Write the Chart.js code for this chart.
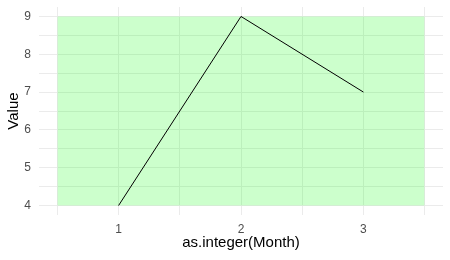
<!DOCTYPE html>
<html>
<head>
<meta charset="utf-8">
<script src="https://cdn.jsdelivr.net/npm/chart.js@4"></script>
<style>
  html, body { margin: 0; padding: 0; background: #fff; }
  #wrap { width: 450px; height: 260px; }
</style>
</head>
<body>
<div id="wrap"><canvas id="chart1"></canvas></div>
<script>
// data
const months = [1, 2, 3];
const values = [4, 9, 7];
// shaded band behind the line
const bandX = [0.5, 3.5];
const bandTop = 9;
const bandBottom = 4;

const xTicks = [0.5, 1, 1.5, 2, 2.5, 3, 3.5];
const yTicks = [4, 4.5, 5, 5.5, 6, 6.5, 7, 7.5, 8, 8.5, 9];

const gridColor = '#ebebeb';
const labelFont = { family: 'Liberation Sans, Arial, sans-serif', size: 12 };
const titleFont = { family: 'Liberation Sans, Arial, sans-serif', size: 15 };

const ctx1 = document.getElementById('chart1').getContext('2d');

var chart1 = new Chart(ctx1, {
    type: 'line',
    data: {
        datasets: [{
                label: 'Value',
                data: months.map((m, i) => ({ x: m, y: values[i] })),
                borderColor: '#000',
                borderWidth: 1,
                pointRadius: 0,
                tension: 0,
                fill: false,
            },
            {
                label: 'band',
                data: bandX.map(x => ({ x: x, y: bandTop })),
                borderWidth: 0,
                pointRadius: 0,
                backgroundColor: 'rgba(0,255,0,0.2)',
                fill: { value: bandBottom },
            },
        ],
    },
    options: {
        responsive: true,
        maintainAspectRatio: false,
        animation: false,
        layout: {
            padding: { top: 7, right: 7, left: 0, bottom: 0 }
        },
        plugins: {
            legend: { display: false },
            tooltip: { enabled: false },
        },
        scales: {
            x: {
                type: 'linear',
                min: 0.35,
                max: 3.65,
                afterBuildTicks(scale) {
                    scale.ticks = xTicks.map(v => ({ value: v }));
                },
                afterFit(scale) {
                    scale.height = 45;
                },
                border: { display: false },
                grid: { color: gridColor, drawTicks: false, lineWidth: 1 },
                ticks: {
                    color: '#4d4d4d',
                    font: labelFont,
                    padding: 7,
                    autoSkip: false,
                    maxRotation: 0,
                    callback: v => Number.isInteger(v) ? String(v) : '',
                },
                title: {
                    display: true,
                    text: 'as.integer(Month)',
                    color: '#000',
                    font: titleFont,
                    padding: { top: 0, bottom: 8 },
                },
            },
            y: {
                min: 3.75,
                max: 9.25,
                afterBuildTicks(scale) {
                    scale.ticks = yTicks.map(v => ({ value: v }));
                },
                afterFit(scale) {
                    scale.width = 39;
                    scale.paddingTop = 0;
                    scale.paddingBottom = 0;
                },
                border: { display: false },
                grid: { color: gridColor, drawTicks: false, lineWidth: 1 },
                ticks: {
                    color: '#4d4d4d',
                    font: labelFont,
                    padding: 8,
                    autoSkip: false,
                    callback: v => Number.isInteger(v) ? String(v) : '',
                },
                title: {
                    display: true,
                    text: 'Value',
                    color: '#000',
                    font: titleFont,
                    padding: { top: 5, bottom: 0 },
                },
            },
        },
    },
});
</script>
</body>
</html>
